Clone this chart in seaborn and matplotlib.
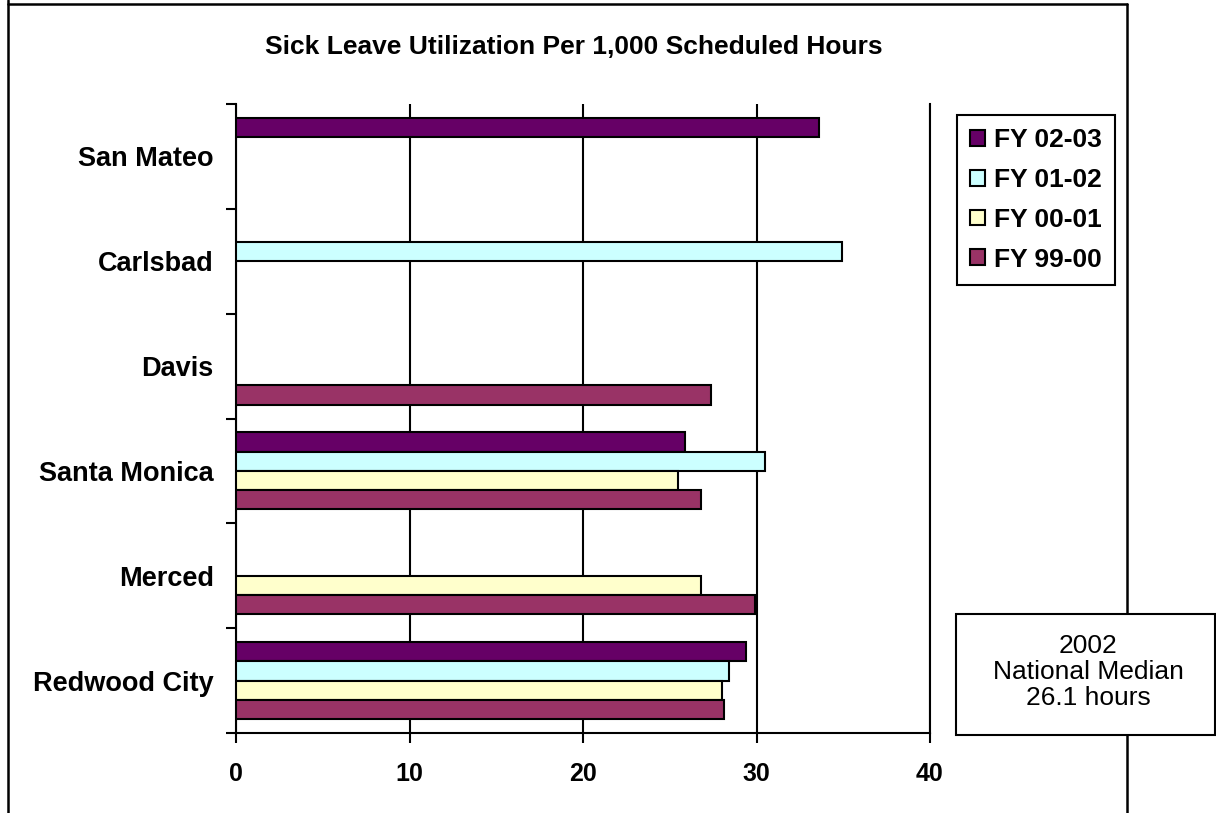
import matplotlib
matplotlib.use("Agg")
import matplotlib.pyplot as plt
from matplotlib.patches import Patch, Rectangle
from matplotlib.lines import Line2D
import seaborn as sns
import pandas as pd

cities = ["San Mateo", "Carlsbad", "Davis", "Santa Monica", "Merced", "Redwood City"]
periods = ["FY 02-03", "FY 01-02", "FY 00-01", "FY 99-00"]
colors = ["#660066", "#CCFFFF", "#FFFFCC", "#993366"]

# Hours per 1,000 scheduled hours; None = not reported
fy_02_03 = [33.6, None, None, 25.9, None, 29.4]
fy_01_02 = [None, 34.9, None, 30.5, None, 28.4]
fy_00_01 = [None, None, None, 25.5, 26.8, 28.0]
fy_99_00 = [None, None, 27.4, 26.8, 29.9, 28.1]

x_ticks = [0, 10, 20, 30, 40]
title = "Sick Leave Utilization Per 1,000 Scheduled Hours"
note = "2002\nNational Median\n26.1 hours"

rows = []
for period, vals in zip(periods, [fy_02_03, fy_01_02, fy_00_01, fy_99_00]):
    for city, v in zip(cities, vals):
        if v is not None:
            rows.append({"city": city, "period": period, "value": v})
df = pd.DataFrame(rows)

sns.set_style("white")
plt.rcParams["font.family"] = ["Liberation Sans", "DejaVu Sans"]

W, H = 1216, 813
fig = plt.figure(figsize=(W / 100, H / 100), dpi=100)
ax = fig.add_axes([236 / W, 1 - 733 / H, (930 - 236) / W, (733 - 104) / H])

sns.barplot(data=df, y="city", x="value", hue="period", order=cities,
            hue_order=periods, palette=colors, orient="h", width=0.735,
            gap=0, saturation=1, edgecolor="black", linewidth=1.5,
            errorbar=None, legend=False, ax=ax, zorder=3)

ax.set_xlim(0, 40)
ax.set_ylim(5.5, -0.5)
ax.set_xlabel("")
ax.set_ylabel("")

ax.set_xticks(x_ticks)
ax.set_xticklabels([str(t) for t in x_ticks], fontsize=18, fontweight="bold")
ax.tick_params(axis="x", direction="out", length=7, width=1.5, pad=14,
               colors="black", bottom=True)

ax.set_yticks(range(len(cities)))
ax.set_yticklabels(cities, fontsize=19.5, fontweight="bold")
ax.set_yticks([i - 0.5 for i in range(len(cities) + 1)], minor=True)
ax.tick_params(axis="y", which="major", length=0, pad=16, colors="black")
ax.tick_params(axis="y", which="minor", direction="out", length=7,
               width=1.5, left=True, colors="black")

ax.grid(axis="x", color="black", linewidth=1.5, zorder=0)
ax.grid(axis="y", visible=False)
ax.set_axisbelow(True)
for side in ["left", "bottom", "right"]:
    ax.spines[side].set_visible(True)
    ax.spines[side].set_color("black")
    ax.spines[side].set_linewidth(1.5)
ax.spines["top"].set_visible(False)

fig.text(574 / W, 1 - 47 / H, title, ha="center", va="center",
         fontsize=19, fontweight="bold", color="black")

handles = [Patch(facecolor=c, edgecolor="black", linewidth=1.5) for c in colors]
leg = fig.legend(handles, periods, loc="upper left",
                 bbox_to_anchor=(957 / W, 1 - 115 / H),
                 prop={"weight": "bold", "size": 19}, frameon=True,
                 fancybox=False, edgecolor="black", framealpha=1,
                 handlelength=0.55, handleheight=0.55, handletextpad=0.35,
                 labelspacing=0.6, borderpad=0.5, borderaxespad=0)
leg.get_frame().set_linewidth(1.5)
for t in leg.get_texts():
    t.set_color("black")

# Outer chart border (bottom edge runs off the canvas)
for xs, ys in [((8, 8), (0, 813)), ((8, 1127), (4, 4)), ((1127, 1127), (4, 813))]:
    fig.add_artist(Line2D([x / W for x in xs], [1 - y / H for y in ys],
                          color="black", linewidth=1.8))

fig.add_artist(Rectangle((956 / W, 1 - 735 / H), (1215 - 956) / W, (735 - 614) / H,
                         facecolor="white", edgecolor="black", linewidth=1.5,
                         transform=fig.transFigure, zorder=5))
fig.text(1088 / W, 1 - 672 / H, note, ha="center", va="center", fontsize=19,
         linespacing=1.12, color="black", zorder=6)

fig.savefig("out.png", dpi=100, facecolor="white")
